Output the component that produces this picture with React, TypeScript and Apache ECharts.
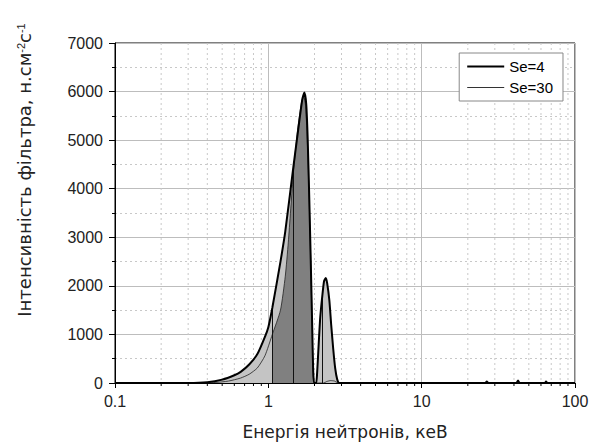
import React, { useEffect, useRef } from "react";
import * as echarts from "echarts";

const FONT = "'Liberation Sans', Arial, sans-serif";
const TITLE_FONT = "'DejaVu Sans', 'Liberation Sans', sans-serif";

// Se=4 (thick line, light fill)
const energy4 = [0.1, 0.3, 0.4, 0.5, 0.6, 0.66, 0.75, 0.85, 0.95, 1.0, 1.062, 1.2, 1.29, 1.455, 1.567, 1.665, 1.716, 1.767, 1.806, 1.85, 1.89, 1.935, 1.96, 1.99, 2.05, 2.08, 2.13, 2.18, 2.25, 2.31, 2.37, 2.42, 2.5, 2.57, 2.65, 2.73, 2.81, 2.9, 3.0, 26, 26.6, 27.2, 41.5, 42.5, 43.5, 63.5, 64.7, 66, 100];
const se4 = [0, 0, 15, 70, 160, 230, 380, 600, 950, 1150, 1550, 2500, 3120, 4440, 5220, 5840, 5980, 5740, 5020, 3780, 2540, 1090, 270, 0, 0, 200, 800, 1350, 1800, 2100, 2160, 2050, 1700, 1200, 700, 300, 80, 0, 0, 0, 30, 0, 0, 50, 0, 0, 30, 0, 0];

// Se=30 (thin line, dark fill in main peak)
const energy30 = [0.1, 0.35, 0.45, 0.55, 0.657, 0.75, 0.848, 0.95, 1.062, 1.2, 1.29, 1.35, 1.455, 1.55, 1.65, 1.7, 1.75, 1.8, 1.85, 1.89, 1.935, 1.96, 1.99, 2.3, 2.4, 2.55, 2.7, 2.85, 100];
const se30 = [0, 0, 10, 40, 100, 180, 310, 560, 1000, 1500, 2200, 2900, 4300, 5200, 5800, 5900, 5700, 4900, 3700, 2500, 1000, 250, 0, 0, 30, 50, 40, 0, 0];

// range of the dark filled region (keV)
const darkRange = [1.062, 1.99];

// vertical drop lines inside the filled areas [energy, height]
const dropLines = [
  [1.062, 1550],
  [1.455, 4440],
  [2.25, 1800],
];

// minor log ticks / dotted grid
const xMinor = [0.2, 0.3, 0.4, 0.5, 0.6, 0.7, 0.8, 0.9, 2, 3, 4, 5, 6, 7, 8, 9, 20, 30, 40, 50, 60, 70, 80, 90];

const yMax = 7000;
const yInterval = 1000;

const ICON_THICK = "path://M0,0L0.01,0L0,0.01Z M37,12L36.99,12L37,11.99Z M0,5L37,5L37,7L0,7Z";
const ICON_THIN = "path://M0,0L0.01,0L0,0.01Z M37,12L36.99,12L37,11.99Z M0,5.5L37,5.5L37,6.5L0,6.5Z";

export default function App() {
  const ref = useRef<HTMLDivElement>(null);
  useEffect(() => {
    document.body.style.margin = "0";
    if (!ref.current) return;
    const chart = echarts.init(ref.current, null, { renderer: "svg" });
    const pts4 = energy4.map((e, i) => [e, se4[i]]);
    const pts30 = energy30.map((e, i) => [e, se30[i]]);
    const dark = pts30.filter((p) => p[0] >= darkRange[0] && p[0] <= darkRange[1]);

    chart.setOption({
      animation: false,
      textStyle: { fontFamily: FONT },
      grid: {
        left: 115,
        right: 14,
        top: 43,
        bottom: 61,
        outerBoundsMode: "none",
        containLabel: false,
        show: true,
        borderColor: "#000",
        borderWidth: 1,
        backgroundColor: "transparent",
      },
      legend: {
        right: 26,
        top: 53,
        orient: "vertical",
        itemWidth: 37,
        itemHeight: 12,
        itemGap: 6,
        borderColor: "#888",
        borderWidth: 1,
        backgroundColor: "#fff",
        padding: [6, 10, 6, 8],
        selectedMode: false,
        itemStyle: { borderWidth: 0 },
        textStyle: { fontSize: 15, color: "#000", fontFamily: FONT },
        data: [
          { name: "Se=4", icon: ICON_THICK, itemStyle: { color: "#000" } },
          { name: "Se=30", icon: ICON_THIN, itemStyle: { color: "#333" } },
        ],
      },
      xAxis: {
        type: "log",
        logBase: 10,
        min: 0.1,
        max: 100,
        name: "Енергія нейтронів, кеВ",
        nameLocation: "middle",
        nameGap: 40,
        nameTextStyle: { fontSize: 17, color: "#222", fontFamily: TITLE_FONT },
        axisLine: { onZero: false, lineStyle: { color: "#000", width: 1 } },
        axisTick: { show: true, length: 5, lineStyle: { color: "#000" } },
        axisLabel: { fontSize: 16, color: "#222", margin: 10, fontFamily: FONT, formatter: (v: number) => String(v) },
        splitLine: { show: true, lineStyle: { color: "#bdbdbd", width: 1 } },
      },
      yAxis: {
        type: "value",
        min: 0,
        max: yMax,
        interval: yInterval,
        axisLine: { show: true, lineStyle: { color: "#000", width: 1 } },
        axisTick: { show: true, length: 6, lineStyle: { color: "#000" } },
        minorTick: { show: true, splitNumber: 2, length: 3, lineStyle: { color: "#000" } },
        axisLabel: { fontSize: 16, color: "#222", margin: 12, fontFamily: FONT, formatter: (v: number) => String(v) },
        splitLine: { show: true, lineStyle: { color: "#bdbdbd", width: 1 } },
        minorSplitLine: { show: true, lineStyle: { color: "#c8c8c8", width: 1, type: [2, 3] } },
      },
      graphic: [
        {
          type: "text",
          x: 24,
          y: 170,
          rotation: Math.PI / 2,
          style: {
            text: "Інтенсивність фільтра, н.см{s|-2}с{s|-1}",
            fontSize: 18,
            fontFamily: TITLE_FONT,
            fill: "#222",
            align: "center",
            verticalAlign: "middle",
            rich: { s: { fontSize: 11, fontFamily: FONT, fill: "#222", verticalAlign: "top" } },
          },
        },
      ],
      series: [
        {
          type: "custom",
          silent: true,
          z: 1,
          data: xMinor.map((v) => [v]),
          renderItem: (params: any, api: any) => {
            const x = api.value(0);
            const top = api.coord([x, yMax]);
            const bot = api.coord([x, 0]);
            return {
              type: "group",
              children: [
                { type: "line", shape: { x1: top[0], y1: top[1], x2: bot[0], y2: bot[1] }, style: { stroke: "#c8c8c8", lineWidth: 1, lineDash: [2, 3] } },
                { type: "line", shape: { x1: bot[0], y1: bot[1], x2: bot[0], y2: bot[1] + 3 }, style: { stroke: "#000", lineWidth: 1 } },
              ],
            };
          },
        },
        {
          name: "fill4",
          type: "line",
          z: 2,
          data: pts4,
          smooth: 0.2,
          symbol: "none",
          silent: true,
          lineStyle: { width: 0 },
          areaStyle: { color: "#c4c4c4", opacity: 1 },
        },
        {
          name: "fill30",
          type: "line",
          z: 3,
          data: dark,
          smooth: 0.2,
          symbol: "none",
          silent: true,
          lineStyle: { width: 0 },
          areaStyle: { color: "#808080", opacity: 1 },
          markLine: {
            silent: true,
            symbol: "none",
            label: { show: false },
            lineStyle: { color: "#111", width: 1, type: "solid" },
            data: dropLines.map((d) => [{ coord: [d[0], 0] }, { coord: [d[0], d[1]] }]),
          },
        },
        {
          name: "Se=30",
          type: "line",
          z: 4,
          data: pts30,
          smooth: 0.2,
          symbol: "none",
          color: "#000",
          lineStyle: { width: 0.8, color: "#222" },
        },
        {
          name: "Se=4",
          type: "line",
          z: 5,
          data: pts4,
          smooth: 0.2,
          symbol: "none",
          color: "#000",
          lineStyle: { width: 2, color: "#000" },
        },
      ],
    });
    return () => chart.dispose();
  }, []);
  return <div ref={ref} style={{ width: 589, height: 444 }} />;
}
